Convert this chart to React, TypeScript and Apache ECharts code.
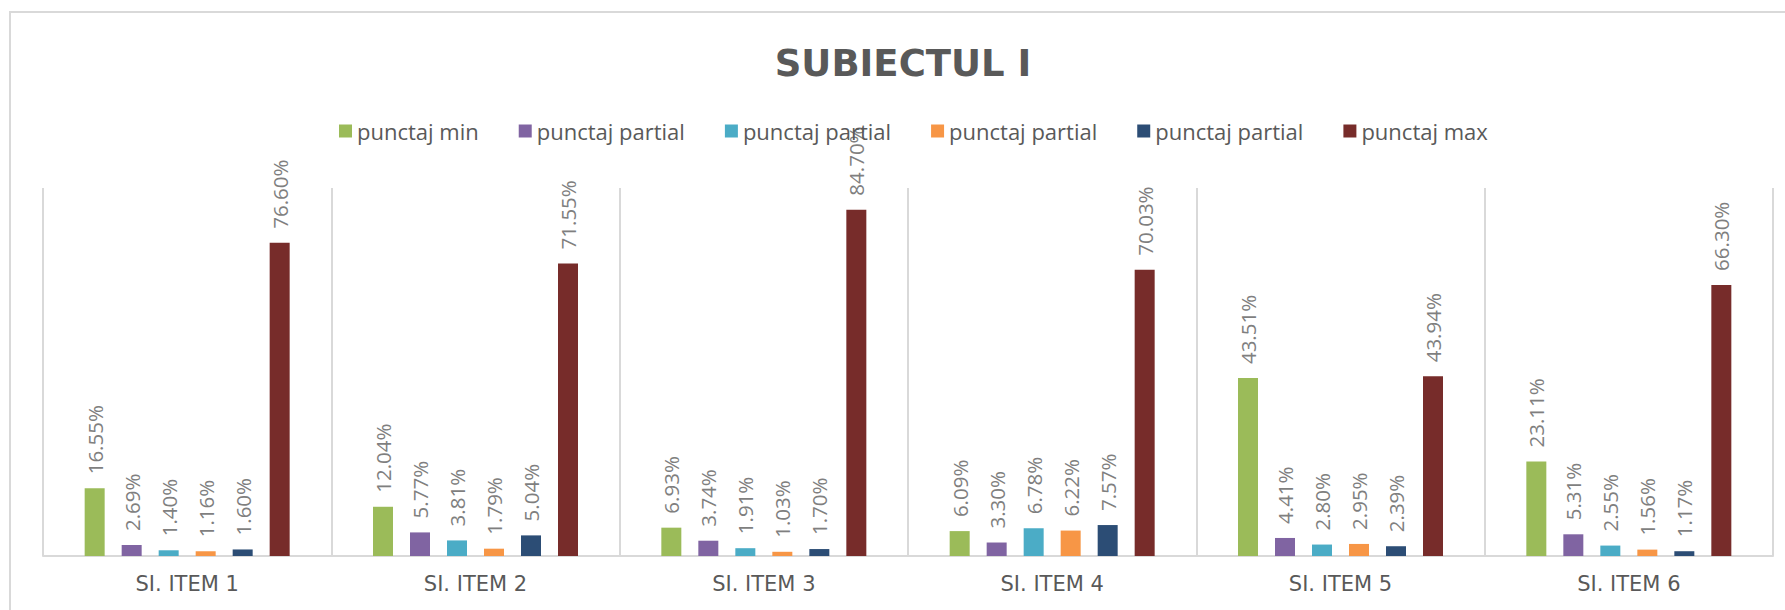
import React, { useEffect, useRef } from "react";
import * as echarts from "echarts";

const categories = ["SI. ITEM 1", "SI. ITEM 2", "SI. ITEM 3", "SI. ITEM 4", "SI. ITEM 5", "SI. ITEM 6"];
const seriesNames = ["punctaj min", "punctaj partial", "punctaj partial", "punctaj partial", "punctaj partial", "punctaj max"];
const punctajMin = [16.55, 12.04, 6.93, 6.09, 43.51, 23.11];
const partial1 = [2.69, 5.77, 3.74, 3.3, 4.41, 5.31];
const partial2 = [1.4, 3.81, 1.91, 6.78, 2.8, 2.55];
const partial3 = [1.16, 1.79, 1.03, 6.22, 2.95, 1.56];
const partial4 = [1.6, 5.04, 1.7, 7.57, 2.39, 1.17];
const punctajMax = [76.6, 71.55, 84.7, 70.03, 43.94, 66.3];
const colors = ["#9BBB59", "#8064A2", "#4BACC6", "#F79646", "#2C4D75", "#772C2A"];
const titleText = "SUBIECTUL I";

export default function App() {
  const ref = useRef<HTMLDivElement>(null);
  useEffect(() => {
    if (!ref.current) return;
    const chart = echarts.init(ref.current, null, { renderer: "svg" });
    const values = [punctajMin, partial1, partial2, partial3, partial4, punctajMax];
    const keys = seriesNames.map((n, i) => `${n}#${i}`);
    chart.setOption({
      animation: false,
      backgroundColor: "#ffffff",
      graphic: [
        {
          type: "rect",
          shape: { x: 10, y: 12, width: 1800, height: 640 },
          style: { fill: "none", stroke: "#d9d9d9", lineWidth: 2 },
          silent: true,
        },
        {
          type: "text",
          x: 903,
          y: 63,
          style: {
            text: titleText,
            align: "center",
            verticalAlign: "middle",
            fontFamily: "DejaVu Sans",
            fontWeight: "bold",
            fontSize: 37,
            fill: "#595959",
          },
        },
      ],
      legend: {
        data: keys,
        left: 334,
        top: 115,
        itemWidth: 13,
        itemHeight: 13,
        itemGap: 40,
        icon: "rect",
        formatter: (name: string) => name.replace(/#\d+$/, ""),
        textStyle: { fontFamily: "Open Sans", fontSize: 22, color: "#595959" },
      },
      grid: { left: 43, right: 12, top: 188, bottom: 54, containLabel: false },
      xAxis: {
        type: "category",
        data: categories,
        boundaryGap: true,
        axisLine: { show: true, lineStyle: { color: "#d9d9d9", width: 2 } },
        axisTick: { show: false },
        splitLine: { show: true, lineStyle: { color: "#d9d9d9", width: 2 } },
        axisLabel: {
          margin: 17,
          fontFamily: "DejaVu Sans",
          fontSize: 21,
          color: "#595959",
        },
      },
      yAxis: {
        type: "value",
        min: 0,
        max: 90,
        show: false,
        splitLine: { show: false },
      },
      series: values.map((v, i) => ({
        name: keys[i],
        type: "bar",
        data: v,
        barWidth: 20,
        barGap: "85%",
        itemStyle: { color: colors[i] },
        label: {
          show: true,
          position: "top",
          rotate: 90,
          align: "left",
          verticalAlign: "middle",
          distance: 14,
          fontFamily: "Open Sans",
          fontSize: 20.5,
          color: "#7f7f7f",
          formatter: (p: any) => `${Number(p.value).toFixed(2)}%`,
        },
      })),
    });
    return () => chart.dispose();
  }, []);
  return (
    <div
      ref={ref}
      style={{ position: "absolute", left: 0, top: 0, width: 1785, height: 610 }}
    />
  );
}
